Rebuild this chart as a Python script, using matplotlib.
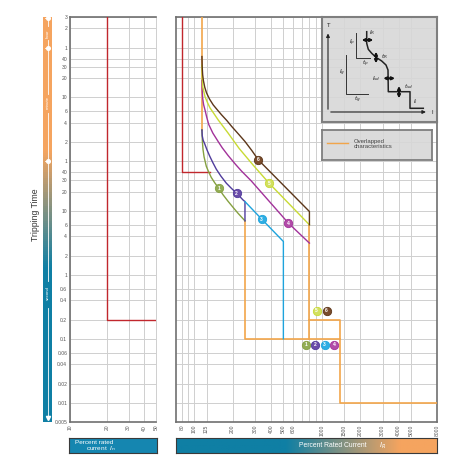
import numpy as np
import matplotlib
matplotlib.use("Agg")
from matplotlib import pyplot as plt
from matplotlib.colors import LinearSegmentedColormap
from matplotlib.ticker import FixedLocator, NullLocator, NullFormatter

plt.rcParams['font.family'] = ['Liberation Sans', 'DejaVu Sans']

# ---- data (time in seconds, current in percent) ----
time_ticks = [10800, 7200, 3600, 2400, 1800, 1200, 600, 360, 240, 120, 60,
              40, 30, 20, 10, 6, 4, 2, 1, 0.6, 0.4, 0.2, 0.1,
              0.06, 0.04, 0.02, 0.01, 0.005]
time_labels = ['3', '2', '1', '40', '30', '20', '10', '6', '4', '2', '1',
               '40', '30', '20', '10', '6', '4', '2', '1', '0.6', '0.4', '0.2', '0.1',
               '0.06', '0.04', '0.02', '0.01', '0.005']

left_ticks = [10, 20, 30, 40, 50]
left_red_x = [20, 20, 50]
left_red_t = [10800, 0.2, 0.2]

main_ticks = [80, 100, 125, 200, 300, 400, 500, 600, 1000, 1500, 2000, 3000, 4000, 5000, 8000]
main_minor = [90, 700, 800, 900]

red_x = [80, 80, 133]
red_t = [10800, 40, 40]

orange_top_x = [115, 115]
orange_top_t = [10800, 185]
orange_low = [
    ([250, 250, 1400], [7.0, 0.1, 0.1]),
    ([800, 800], [6.07, 0.1]),
    ([800, 1400, 1400, 8000], [0.2, 0.2, 0.01, 0.01]),
]

c1_x = [115, 115.2, 116, 117.2, 119.5, 124.4, 129, 136, 145, 155.6, 168, 184, 200, 220, 250]
c1_t = [185, 160, 120, 92, 70, 50, 42, 33.5, 27.5, 22.7, 18, 14.2, 11.6, 9.25, 7.0]
c2_x = [115, 115.6, 117.5, 120.9, 126, 132.3, 140, 149, 162, 178.5, 196, 217.7, 241, 250, 250]
c2_t = [185, 150, 128, 112, 90, 72, 57, 45, 35, 27.2, 22.5, 18.5, 14.9, 14, 7.0]
c3_x = [250, 338, 500, 500]
c3_t = [14, 7.45, 3.33, 0.1]
c4_x = [115, 115.4, 116.5, 118.5, 121.5, 125.5, 130, 140, 154, 166, 184, 210, 235, 280, 547, 800]
c4_t = [1100, 800, 580, 460, 380, 290, 225, 165, 122, 97, 74, 54, 42, 29.5, 6.46, 3.14]
c5_x = [115, 115.6, 116.5, 118.5, 121.5, 126, 133, 142, 154, 184, 225, 290, 386, 800]
c5_t = [1900, 1250, 880, 760, 614, 515, 409, 338, 266, 166, 95, 52, 27.2, 6.07]
c6_x = [115, 115.5, 116.5, 118, 121, 125, 132, 141, 152, 164, 180, 197, 222, 250, 283, 318, 800, 800]
c6_t = [2600, 1800, 1350, 1100, 860, 700, 560, 455, 380, 318, 260, 209, 160, 122, 88, 63, 9.8, 6.07]

curve_x = [c1_x, c2_x, c3_x, c4_x, c5_x, c6_x]
curve_t = [c1_t, c2_t, c3_t, c4_t, c5_t, c6_t]
curve_col = ['#85a040', '#503c9c', '#1ea3dc', '#a2329a', '#c8da34', '#5c3619']
badge_col = ['#93ad55', '#6a4ca8', '#2eaee4', '#b24ca8', '#d2e060', '#7a4c2c']

badge_num = ['1', '2', '3', '4', '5', '6']
badge_x = [156.5, 215, 338, 547, 386, 318]
badge_t = [22.6, 18.8, 7.45, 6.46, 27.2, 63]
low_num = ['1', '2', '3', '4', '5', '6']
low_x = [752, 890, 1054, 1247, 912, 1093]
low_t = [0.081, 0.081, 0.081, 0.081, 0.275, 0.275]

RED = '#c1272d'
ORANGE = '#f2a54a'
TEAL = '#0f7fa4'
ORANGE_BAR = '#f5a45f'
GRID = '#cfcfcf'
SPINE = '#707070'

fig = plt.figure(figsize=(4.7, 4.7), dpi=100)
W = 470.0


def frame(x0, y0, x1, y1):
    # pixel box (top-left origin) -> figure fraction rect
    return [x0 / W, (W - y1) / W, (x1 - x0) / W, (y1 - y0) / W]


def setup(ax, xlim, ticks, minor):
    ax.set_xscale('log')
    ax.set_yscale('log')
    ax.set_xlim(*xlim)
    ax.set_ylim(0.005, 10800)
    ax.xaxis.set_major_locator(FixedLocator(ticks))
    ax.xaxis.set_minor_locator(FixedLocator(minor) if minor else NullLocator())
    ax.xaxis.set_minor_formatter(NullFormatter())
    ax.set_xticklabels([str(t) for t in ticks], rotation=90)
    ax.yaxis.set_major_locator(FixedLocator(time_ticks))
    ax.yaxis.set_minor_locator(NullLocator())
    ax.grid(True, which='both', color=GRID, lw=0.7, zorder=0)
    ax.tick_params(which='both', length=0, labelsize=3.6, labelcolor='#555555', pad=2)
    for s in ax.spines.values():
        s.set_color(SPINE)
        s.set_linewidth(1.2)


# ---- left panel ----
axl = fig.add_axes(frame(70, 17, 156, 422))
setup(axl, (10, 50), left_ticks, None)
axl.set_yticklabels(time_labels)
axl.spines['right'].set_color(GRID)
axl.spines['right'].set_linewidth(0.7)
axl.plot(left_red_x, left_red_t, color=RED, lw=1.0, zorder=3)

# ---- main panel ----
ax = fig.add_axes(frame(176, 17, 437, 422))
setup(ax, (72, 8000), main_ticks, main_minor)
ax.set_yticklabels([])
ax.plot(red_x, red_t, color=RED, lw=1.0, zorder=3)
ax.plot(orange_top_x, orange_top_t, color=ORANGE, lw=1.2, zorder=3)
for xs, ts in orange_low:
    ax.plot(xs, ts, color=ORANGE, lw=1.2, zorder=3)
for xs, ts, c in zip(curve_x, curve_t, curve_col):
    ax.plot(xs, ts, color=c, lw=1.0, zorder=4, solid_joinstyle='round')


def badge(n, x, t):
    i = int(n) - 1
    ax.plot(x, t, 'o', ms=6, mfc=badge_col[i], mec=curve_col[i], mew=0.6, zorder=6)
    ax.text(x, t, n, color='white', fontsize=3.6, ha='center', va='center',
            fontweight='bold', zorder=7)


for n, x, t in zip(badge_num, badge_x, badge_t):
    badge(n, x, t)
for n, x, t in zip(low_num, low_x, low_t):
    badge(n, x, t)

# ---- inset: schematic ----
ins = fig.add_axes(frame(321.7, 16.7, 436.7, 121.7))
ins.set_xlim(0, 115)
ins.set_ylim(0, 105)
ins.set_xticks([])
ins.set_yticks([])
ins.patch.set_facecolor('#d7d7d7')
ins.patch.set_alpha(0.9)
for s in ins.spines.values():
    s.set_color('#7f7f7f')
    s.set_linewidth(1.5)

sch_curve_x = [45, 45, 46.6, 50, 54.3, 60, 64.3, 66.3, 66.6, 88.3, 88.3, 101.6]
sch_curve_y = [90, 78.4, 72.4, 68.4, 64.4, 60.7, 56.7, 51.7, 30, 30, 13.4, 13.4]
sch_p_x = [34.3, 34.3, 48.3]
sch_p_y = [88.4, 63.4, 63.4]
sch_g_x = [24, 24, 46.6]
sch_g_y = [66.7, 27.7, 27.7]

ins.plot(sch_curve_x, sch_curve_y, color='#222222', lw=1.1, solid_joinstyle='round')
ins.plot(sch_p_x, sch_p_y, color='#333333', lw=0.7)
ins.plot(sch_g_x, sch_g_y, color='#333333', lw=0.7)
ins.annotate('', xy=(6.3, 91), xytext=(6.3, 9.7),
             arrowprops=dict(arrowstyle='-|>', color='#222222', lw=0.8, mutation_scale=5))
ins.annotate('', xy=(107, 9.7), xytext=(6.3, 9.7),
             arrowprops=dict(arrowstyle='-|>', color='#222222', lw=0.8, mutation_scale=5))
for (xa, ya), (xb, yb) in [((40, 81.7), (51.6, 81.7)), ((54.3, 70), (54.3, 58.4)),
                           ((61.6, 43.4), (73.3, 43.4)), ((77.3, 35.7), (77.3, 23.4))]:
    ins.annotate('', xy=(xa, ya), xytext=(xb, yb),
                 arrowprops=dict(arrowstyle='<|-|>', color='#111111', lw=1.4,
                                 mutation_scale=4, shrinkA=0, shrinkB=0))
for txt, x, y in [('T', 6.7, 96), ('I', 111, 9.7), ('$I_R$', 50, 89), ('$t_R$', 62.3, 65),
                  ('$I_{sd}$', 55, 43.4), ('$t_{sd}$', 86.6, 35), ('$I_i$', 93.3, 20),
                  ('$I_p$', 30.6, 78.4), ('$t_p$', 43.3, 58), ('$I_g$', 20.5, 48.4),
                  ('$t_g$', 35.6, 21.7)]:
    ins.text(x, y, txt, fontsize=4.2, color='#222222', ha='center', va='center')

# ---- legend box ----
leg = fig.add_axes(frame(322, 130, 432, 160))
leg.set_xlim(0, 110)
leg.set_ylim(0, 30)
leg.set_xticks([])
leg.set_yticks([])
leg.patch.set_facecolor('#d7d7d7')
leg.patch.set_alpha(0.9)
for s in leg.spines.values():
    s.set_color('#7f7f7f')
    s.set_linewidth(1.3)
leg.plot([4.7, 26.3], [17.3, 17.3], color=ORANGE, lw=1.0)
leg.text(32, 16, 'Overlapped\ncharacteristics', fontsize=4.3, color='#444444',
         ha='left', va='center', linespacing=1.1)

# ---- tripping time bar ----
bar = fig.add_axes(frame(43, 17, 52, 422))
bar.set_yscale('log')
bar.set_ylim(0.005, 10800)
bar.set_xlim(0, 1)
bar.axis('off')
cmap_v = LinearSegmentedColormap.from_list('v', [(0, TEAL), (0.38, TEAL), (0.67, ORANGE_BAR), (1, ORANGE_BAR)])
gy = np.geomspace(0.005, 10800, 200)
gf = (np.log10(gy) - np.log10(0.005)) / (np.log10(10800) - np.log10(0.005))
bar.pcolormesh([0, 1], gy, gf[:-1, None], cmap=cmap_v, shading='flat')
for t0, t1 in [(10500, 7800), (4700, 3600), (3600, 680), (335, 60), (60, 0.8), (0.3, 0.0058)]:
    bar.plot([0.5, 0.5], [t0, t1], color='white', lw=0.6)
for t in [10300, 3600, 60]:
    bar.plot(0.5, t, 'o', color='white', ms=2.6)
    bar.plot([0.25, 0.75], [t, t], color='white', lw=0.6)
bar.plot(0.5, 0.0057, 'v', color='white', ms=3)
for txt, t in [('hour', 6000), ('minute', 500), ('second', 0.52)]:
    bar.text(0.5, t, txt, rotation=90, color='white', fontsize=3.2, ha='center', va='center')

fig.text(36 / W, 1 - 215 / W, 'Tripping Time', rotation=90, fontsize=6.2,
         color='#333333', ha='center', va='center')

# ---- bottom bars ----
lb = fig.add_axes(frame(69, 438, 157, 453))
lb.set_xlim(0, 1)
lb.set_ylim(0, 1)
lb.set_xticks([])
lb.set_yticks([])
lb.patch.set_facecolor('#1586b0')
for s in lb.spines.values():
    s.set_color('#3a3a3a')
    s.set_linewidth(0.8)
lb.text(0.07, 0.72, 'Percent rated', color='white', fontsize=4.6, ha='left', va='center')
lb.text(0.19, 0.27, 'current  $I_n$', color='white', fontsize=4.6, ha='left', va='center')

mb = fig.add_axes(frame(176, 438, 437, 453))
mb.set_xlim(0, 1)
mb.set_ylim(0, 1)
mb.set_xticks([])
mb.set_yticks([])
cmap_h = LinearSegmentedColormap.from_list('h', [(0, TEAL), (0.42, TEAL), (0.86, ORANGE_BAR), (1, ORANGE_BAR)])
mb.imshow(np.linspace(0, 1, 256)[None, :], cmap=cmap_h, aspect='auto', extent=(0, 1, 0, 1))
for s in mb.spines.values():
    s.set_color('#3a3a3a')
    s.set_linewidth(0.8)
mb.text(0.60, 0.5, 'Percent Rated Current', color='white', fontsize=4.9, ha='center', va='center')
mb.text(0.79, 0.5, '$I_R$', color='white', fontsize=5.2, ha='center', va='center')

fig.savefig('out.png', dpi=100)
